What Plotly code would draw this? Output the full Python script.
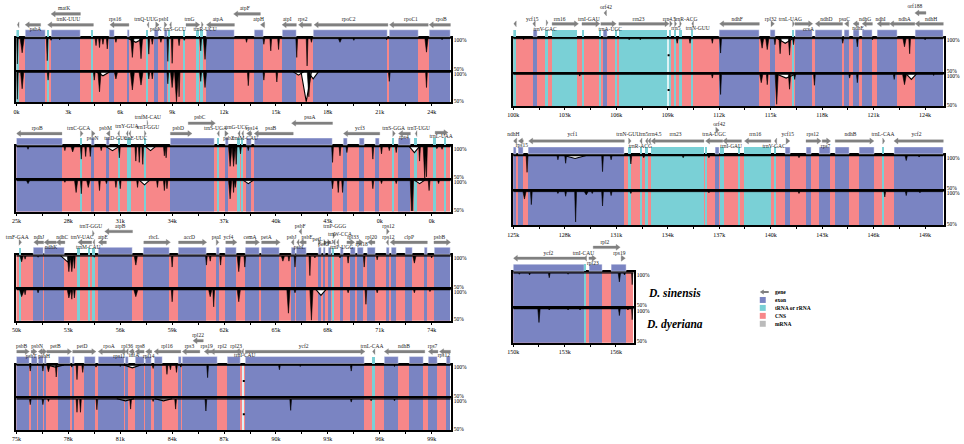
import plotly.graph_objects as go

BLUE = "#7A84C2"; PINK = "#F78789"; TEAL = "#7AD0D6"; GRAY = "#808080"; PALE = "#DDF2F4"
FONT = "Liberation Serif"

# ---------- panel 1 ----------
P1_TICKS = ["0k","3k","6k","9k","12k","15k","18k","21k","24k"]
P1_EXONS = [(0.52,1.67),(2.05,3.68),(5.37,5.67),(6.4,6.54),(7.95,8.18),(8.53,8.72),(10.98,12.59),(13.74,14.3),(15.35,16.18),(17.19,21.47),(21.56,23.25),(23.85,25.1)]
P1_RNA = [(0.05,0.15),(1.81,1.91),(4.36,4.46),(7.53,7.65),(8.82,8.92),(9.69,9.79),(10.45,10.55),(10.68,10.78)]
P1_GENES = [("trnH-GUG",0.05,0.15,-1,13,-0.1,18),("psbA",0.5,1.4,-1,13,1.1,8),("matK",2.0,3.7,-1,24,2.75,29),("trnK-UUU",1.8,4.45,-1,13,3.0,18),
 ("rps16",5.4,6.5,-1,13,5.7,18),("trnQ-UUG",7.55,7.65,-1,13,7.5,18),("psbK",8.05,8.25,1,13,8.05,8),("psbI",8.55,8.7,1,13,8.5,18),
 ("trnS-GCU",8.85,8.95,-1,13,9.15,8),("trnG",9.8,10.6,1,13,10.0,18),("trnR-UCU",10.7,10.8,1,13,10.9,8),("atpA",10.98,12.6,-1,13,11.65,18),
 ("atpF",12.55,14.1,-1,24,13.2,29),("atpH",14.1,14.35,-1,13,14.0,18),("atpI",15.35,16.18,-1,13,15.65,18),("rps2",16.3,17.05,-1,13,16.55,18),
 ("rpoC2",17.2,21.47,-1,13,19.2,18),("rpoC1",21.56,23.8,-1,13,22.8,18),("rpoB",23.85,25.1,-1,13,24.55,18)]
P1_DIPS_A = [(0.05,60),(0.33,77,.25),(1.78,65),(2.0,96),(2.5,97),(4.6,88),(4.8,85),(5.0,90),(5.25,83),(5.75,93),(6.7,70,.2),(7.2,68,.2),(6.9,93,.5),(7.65,75),(7.85,90),(8.35,93),(8.75,64),(9.0,61),(9.4,88),(9.7,96),(10.65,80),(10.9,67,.2),(13.3,93),(14.3,90),(14.7,80),(15.15,82),(16.2,70),(16.8,57),(17.05,93),(18.7,93,.2),(19.5,96),(21.4,97),(23.7,78,.2),(24.6,97)]
P1_DIPS_B = [(0.05,55),(0.33,72,.2),(1.83,86),(4.5,86),(4.8,67,.2),(5.0,93,.4),(5.75,88,.2),(6.7,70,.25),(7.2,78,.25),(7.65,88),(7.85,88),(8.75,80),(9.0,74,.2),(9.25,51,.25),(9.4,59),(10.65,84),(10.9,74,.2),(13.4,77),(14.3,86),(15.05,83),(16.3,94,.3),(16.75,51,.3),(16.9,59,.2),(17.15,88,.3),(21.55,84),(23.7,74)]

# ---------- panel 2 ----------
P2_TICKS = ["25k","28k","31k","34k","37k","40k","43k","0k","0k"]
P2_EXONS = [(25.0,27.63),(29.31,29.52),(30.18,30.39),(33.91,36.44),(37.07,37.26),(38.28,38.61),(38.74,43.27),(43.9,44.15),(44.82,45.09),(45.74,45.99),(47.08,47.77)]
P2_RNA = [(28.7,28.82),(30.88,31.0),(31.4,31.62),(32.4,32.5),(36.6,36.72),(37.8,37.92),(38.02,38.12),(46.75,46.87),(48.05,48.15),(49.15,49.25),(49.75,49.85)]
P2_GENES = [("rpoB",25.0,27.63,-1,12.5,26.2,18),("trnC-GCA",28.7,28.85,1,12.5,28.6,18),("psbN",29.35,29.55,1,12.5,29.4,7),("psbM",30.2,30.4,-1,12.5,30.15,18),
 ("trnD-GUC",30.85,30.95,-1,12.5,30.75,7),("trnY-GUA",31.35,31.45,-1,12.5,31.38,20),("trnE-UUC",31.5,31.6,-1,12.5,31.9,7),("trnfM-CAU",32.55,32.6,1,23,32.6,29),
 ("trnT-GGU",32.4,32.5,1,12.5,32.6,19),("psbD",33.9,35.15,1,12.5,34.35,18),("psbC",34.93,36.5,1,23,35.6,29),("trnS-UGA",36.6,36.72,-1,12.5,36.5,18),
 ("psbZ",37.05,37.25,1,12.5,37.27,7),("trnG-UCC",37.8,37.92,-1,12.5,37.75,19),("trnfM-CAU",38.02,38.12,-1,12.5,38.2,7),("rps14",38.3,38.6,-1,12.5,38.6,18),
 ("psaB",38.74,41.0,-1,12.5,39.7,18),("psaA",40.9,43.27,-1,23,41.96,29),("ycf3",43.9,46.0,-1,12.5,44.85,18),("trnS-GGA",46.75,46.9,1,12.5,46.8,18),
 ("trnT-UGU",48.05,48.15,-1,12.5,48.25,18),("rps4",47.08,47.77,-1,12.5,47.4,8),("trnL-UAA",49.2,49.95,1,13.5,49.55,9)]
P2_DIPS_A = [(25.67,95),(27.8,93),(28.25,91,.2),(28.75,80),(29,84),(29.27,84),(29.9,93),(30.55,93,.4),(30.95,82),(31.9,77),(32.1,75),(32.3,72),(32.75,93,.3),(33.55,85),(33.65,82),(37.35,69,.2),(37.55,69,.2),(37.7,72),(37.95,88),(38.4,93),(43.27,75),(43.7,85),(44.1,90),(45.6,80),(46.1,88),(46.55,93),(46.95,90),(48,90,.3),(48.3,77),(48.6,51,.2),(48.7,53),(49.3,96),(49.6,95)]
P2_DIPS_B = [(25.67,94,.2),(27.8,96),(28.45,80,.2),(28.75,78),(29.15,88,.2),(29.8,83),(30.2,94),(30.75,88),(31,86),(32,88),(32.4,92,.3),(33.15,88),(33.55,83),(33.7,86),(37.35,70,.2),(37.55,80),(37.65,88),(38.4,94,.3),(43.27,86),(43.6,80),(43.85,80),(45.6,86),(46.1,94),(46.95,94),(47.83,51,.15),(47.9,51),(48.3,94,.3),(48.85,83),(49.4,94)]

# ---------- panel 3 ----------
P3_TICKS = ["50k","53k","56k","59k","62k","65k","68k","71k","74k"]
P3_EXONS = [(51.0,51.57),(51.61,52.78),(54.73,56.71),(57.36,58.87),(59.37,60.96),(61.58,61.73),(62.1,62.71),(63.26,64.03),(64.17,65.18),(65.89,66.1),(66.18,66.75),(67.46,67.63),(67.77,67.88),(68.02,68.19),(68.71,68.9),(69.32,69.57),(69.69,70.03),(70.3,70.72),(71.37,71.56),(71.68,71.95),(72.48,72.87),(73.6,73.75),(74.13,75.1)]
P3_RNA = [(50.18,50.28),(53.57,53.67),(54.19,54.29),(54.44,54.54),(68.29,68.39)]
P3_GENES = [("trnF-GAA",50.15,50.3,1,13,50.05,18),("ndhJ",51.0,51.57,-1,13,51.3,18),("ndhK",51.6,52.3,-1,13,52.0,8),("ndhC",52.3,52.8,-1,13,52.65,18),
 ("trnV-UAC",53.55,54.35,-1,13,53.8,18),("trnM-CAU",54.42,54.52,-1,13,54.15,8),("trnT-GGU",54.4,54.5,1,22,54.3,29),("atpE",54.73,55.2,-1,13,55.0,18),
 ("atpB",55.1,56.71,-1,24,56.0,29),("rbcL",57.36,58.9,1,13,57.95,18),("accD",59.37,61.0,1,13,60.0,18),("psaI",61.55,61.7,1,13,61.55,18),
 ("ycf4",62.1,62.75,1,13,62.25,18),("cemA",63.26,64.05,1,13,63.5,18),("petA",64.17,65.25,1,13,64.45,18),("psbJ",65.88,66.03,-1,13,65.9,18),
 ("psbF",66.33,66.48,-1,24,66.4,29),("psbL",66.2,66.33,-1,13,66.35,8),("psbE",66.35,66.75,-1,13,66.8,18),("petL",67.45,67.6,1,13,67.4,16),
 ("petG",67.77,67.88,1,13,67.75,11),("psaJ",68.0,68.15,1,13,68.05,13),("trnW-CCA",68.3,68.42,-1,13,68.7,21),("trnP-UGG",68.5,68.62,-1,13,68.8,8),
 ("trnP-GGG",68.3,68.42,1,20,68.4,29),("rpl33",69.1,69.55,1,13,69.45,18),("rps18",69.65,70.05,1,13,69.95,11),("rpl20",70.3,70.72,-1,13,70.5,18),
 ("rps12",71.4,71.55,1,24,71.5,29),("rps12",71.37,71.5,-1,13,71.5,18),("clpP",71.6,73.75,-1,13,72.7,18),("psbB",74.13,75.1,1,13,74.45,18)]
P3_DIPS_A = [(50.3,90,.2),(50.5,94),(51.25,97),(53.03,75,.2),(53.2,75,.2),(52.95,90,.4),(53.35,80),(54.5,97),(56.9,85,.2),(59,82),(60.98,85),(61.2,91),(61.8,85),(62.85,75,.2),(63.2,82),(65.4,91,.2),(65.75,91),(66.1,82),(66.96,69),(67.25,96),(68.7,96),(69.17,88),(70.1,82),(70.85,93),(73,88,.2),(74,96)]
P3_DIPS_B = [(50.3,88,.25),(50.5,91),(51.25,94),(53.03,86,.2),(53.2,84),(53.35,86),(56.9,88,.25),(59,80),(61.2,88,.2),(61.4,72),(62.85,80,.2),(65.72,62,.2),(66.1,94),(67.05,51,.2),(67.6,90,.3),(69.17,94),(70.2,76),(70.85,94),(73,94),(73.9,96)]

# ---------- panel 4 ----------
P4_TICKS = ["75k","78k","81k","84k","87k","90k","93k","96k","99k"]
P4_EXONS = [(75,75.73),(75.86,76.21),(76.25,76.55),(76.59,76.71),(77.42,78.11),(78.24,78.35),(78.93,79.54),(79.72,81.27),(81.3,81.46),(81.86,82.38),(82.46,82.82),(82.95,83.41),(84.39,84.51),(84.58,86.6),(87.19,87.94),(88.23,95.09),(96.26,97.06),(97.7,98.5),(98.8,99.36),(99.88,100.1)]
P4_RNA = [(95.58,95.73)]
P4_STRIPES = [(88.08,88.2)]
P4_MARKS_X = [88.14]
P4_GENES = [("psbB",75,75.75,1,13,75.3,18),("psbT",75.85,76.2,1,13,75.85,8),("psbN",76.25,76.55,-1,13,76.2,18),("psbH",76.55,76.75,1,13,76.6,8),
 ("petB",76.75,78.2,1,13,77.25,18),("petD",78.25,79.6,1,13,78.8,18),("rpoA",79.72,81.27,-1,13,80.35,18),("rps11",81.0,81.3,-1,13,80.95,8),
 ("rpl36",81.3,81.46,-1,13,81.4,18),("infA",81.5,81.8,-1,13,81.8,9),("rps8",81.86,82.38,-1,13,82.15,18),("rpl14",82.46,82.82,-1,13,82.65,8),
 ("rpl16",82.95,84.5,-1,13,83.7,18),("rps3",84.58,85.6,-1,13,85.0,18),("rpl22",85.2,85.8,-1,24,85.5,29),("rps19",85.85,86.4,-1,13,86.0,18),
 ("rpl2",86.2,87.94,-1,13,86.9,18),("rpl23",87.65,88.0,-1,13,87.7,18),("trnI-CAU",88.02,88.12,-1,13,88.2,9),("ycf2",88.23,95.15,1,13,91.6,18),
 ("trnL-CAA",95.58,95.72,-1,13,95.55,18),("ndhB",96.26,98.6,-1,13,97.4,18),("rps7",98.8,99.36,-1,13,99.05,18),("rps12",99.45,100.1,-1,13,99.7,9)]
P4_DIPS_A = [(75.8,90),(76.53,90),(76.85,89,.2),(77.3,81),(77.25,96,.5),(78.2,96),(78.5,77),(78.83,88),(79.6,96),(81.0,97),(81.7,95,.5),(82.9,94),(83.7,85),(83.9,92),(84.25,88),(84.5,96),(86.05,80),(90.2,92),(91.4,97),(94.35,90),(96.85,97)]
P4_DIPS_B = [(75.8,90),(76.53,90),(76.85,95),(78.5,78),(78.7,78),(79.65,82),(81.6,83),(81.3,96,.5),(82.9,95),(83.5,96,.5),(84.2,83),(85.95,80),(90.85,81),(94.35,94),(95.5,96),(96.85,96)]

# ---------- panel 5 ----------
P5_TICKS = ["100k","103k","106k","109k","112k","115k","118k","121k","124k"]
P5_EXONS = [(101.14,101.37),(105.26,105.49),(112.02,114.34),(115.0,115.27),(116.41,117.45),(117.6,119.19),(119.29,119.61),(119.81,120.14),(120.33,120.93),(121.2,122.38),(123.42,125.08)]
P5_RNA = [(100.02,100.15),(101.92,102.02),(102.26,103.75),(104.05,104.15),(105.05,105.15),(106.0,106.08),(106.18,109.0),(109.1,109.18),(109.42,109.52),(109.73,109.83),(110.39,110.49),(116.28,116.38)]
P5_STRIPES = [(109.0,109.1)]
P5_MARKS_X = [109.05]
P5_GENES = [("rps12",100.02,100.17,-1,14,99.9,18),("ycf15",101.13,101.28,-1,14,101.1,18),("trnV-GAC",101.92,102.02,1,15,101.85,8),("rrn16",102.26,103.8,1,14,102.7,18),
 ("trnI-GAU",104.0,105.05,1,14,104.4,18),("trnA-UGC",105.1,106.0,1,14,105.65,8),("orf42",105.28,105.43,-1,25,105.4,30),("rrn23",106.15,109.08,1,14,107.3,18),
 ("rrn4.5",109.12,109.27,1,14,109.1,18),("rrn5",109.4,109.52,1,14,109.47,9),("trnR-ACG",109.7,109.8,1,14,110.05,18),("trnN-GUU",110.4,110.5,-1,14,110.75,9),
 ("ndhF",112.02,114.34,-1,14,113.05,18),("rpl32",115.02,115.22,1,14,115.0,18),("trnL-UAG",116.28,116.38,1,14,116.15,18),("ccsA",116.41,117.45,1,14,117.2,8),
 ("ndhD",117.6,119.19,-1,14,118.25,18),("psaC",119.3,119.55,-1,14,119.3,18),("ndhE",119.8,120.14,-1,14,120.1,9),("ndhG",120.33,120.93,-1,14,120.5,18),
 ("ndhI",121.2,121.93,-1,14,121.4,18),("ndhA",121.93,123.4,-1,14,122.8,18),("orf188",123.4,124.05,-1,25,123.4,31),("ndhH",123.42,125.08,-1,14,124.35,18)]
P5_DIPS_A = [(100.6,97),(106.75,97),(107.4,97),(109.55,92),(110.3,92),(111.6,92),(112.08,78,.12),(114.5,85,.2),(114.8,83,.2),(115.25,90),(115.55,77,.15),(116.1,75,.15),(115.85,92,.5),(116.33,90),(119.2,92),(120.05,87),(120.93,97),(122.8,87,.2),(123.1,77),(124,97)]
P5_DIPS_B = [(100.6,98),(103.87,96),(106.8,98),(111.6,93),(112.08,68,.12),(114.45,86,.2),(114.8,83),(115.35,53,.2),(115.9,93,.6),(116.1,76,.15),(116.4,91),(117.55,82),(119.6,93),(120.05,86),(122.2,91),(122.8,83,.25),(123.2,91,.3),(124.5,97)]

# ---------- panel 6 ----------
P6_TICKS = ["125k","128k","131k","134k","137k","140k","143k","146k","149k"]
P6_EXONS = [(125.0,125.19),(125.29,125.58),(125.89,131.47),(136.79,137.0),(140.85,141.13),(142.06,142.35),(142.86,143.5),(143.76,144.56),(145.19,146.02),(147.18,150.08)]
P6_RNA = [(131.75,131.85),(132.38,132.5),(132.68,132.88),(133.02,136.11),(136.2,136.3),(137.04,137.27),(138.13,138.23),(138.47,140.01),(140.22,140.32),(146.53,146.63)]
P6_GENES = [("ndhH",125.0,125.2,-1,14,125.0,20),("rps15",125.29,125.58,-1,14,125.5,9),("ycf1",125.89,131.47,-1,14,128.45,20),("trnN-GUU",131.72,131.87,1,14,131.7,20),
 ("trnR-ACG",132.37,132.5,-1,14,132.4,8),("rrn5",132.7,132.83,-1,14,132.6,20),("rrn4.5",132.85,133.0,-1,14,133.25,20),("rrn23",133.02,136.11,-1,14,134.45,20),
 ("trnA-UGC",136.2,137.2,-1,14,136.7,20),("orf42",136.8,137.0,1,25,137.0,31),("trnI-GAU",137.2,138.3,-1,14,137.7,8),("rrn16",138.47,140.01,-1,14,139.1,20),
 ("trnV-GAC",140.22,140.35,-1,14,140.2,8),("ycf15",140.9,141.12,1,14,141.0,20),("rps12",142.06,142.95,1,14,142.45,20),("rps7",143.0,143.5,1,14,143.2,8),
 ("ndhB",143.76,146.02,1,14,144.65,20),("trnL-CAA",146.53,146.65,1,14,146.55,20),("ycf2",147.18,150.08,-1,14,148.5,20)]
P6_DIPS_A = [(125.8,75,.12),(127.6,93),(128.05,88),(128.6,95,.7),(130.2,76),(130.7,93),(131.85,87),(132.6,96),(134.9,96),(136.4,96),(141.65,96),(147.9,92,.15),(148.65,97)]
P6_DIPS_B = [(125.65,88,.2),(126.05,80),(127.6,96),(128.05,92),(128.63,55,.12),(129.25,94,.25),(129.6,96),(130.2,78),(130.7,93),(131.85,96),(136.4,97),(141.65,96),(146.65,91),(147.9,93),(148.7,97)]

# ---------- panel 7 ----------
P7_TICKS = ["150k","153k","156k"]
P7_EXONS = [(150.0,154.13),(154.42,155.19),(155.75,156.58)]
P7_RNA = [(154.13,154.28)]
P7_GENES = [("ycf2",150.0,154.25,-1,14,152.05,19),("trnI-CAU",154.15,154.28,-1,14,154.1,19),("rpl23",154.42,154.85,1,14,154.65,9),("rpl2",154.67,156.25,1,25,155.35,30),("rps19",156.3,156.55,1,14,156.2,19)]
P7_DIPS_A = [(150.35,97),(150.95,96),(152.1,92),(153.2,97),(156.2,86,.15),(156.5,96),(156.95,82,.08)]
P7_DIPS_B = [(150.35,98),(151.5,79,.15),(152.1,97),(153.2,97),(153.9,97),(156.2,89),(156.7,97),(156.95,83,.08)]

LEGEND_LABELS = ["gene","exon","tRNA or rRNA","CNS","mRNA"]
SPECIES = ["D. sinensis","D. dyeriana"]

W, H = 964, 444
DX = -4.5
PANELS = [
 (15,452,37,71,102,0,25.1,P1_TICKS,P1_EXONS,P1_RNA,P1_GENES,P1_DIPS_A,P1_DIPS_B,[],[]),
 (15,452,146,180,212,25,50.1,P2_TICKS,P2_EXONS,P2_RNA,P2_GENES,P2_DIPS_A,P2_DIPS_B,[],[]),
 (15,452,256,290,322,50,75.1,P3_TICKS,P3_EXONS,P3_RNA,P3_GENES,P3_DIPS_A,P3_DIPS_B,[],[]),
 (15,452,366,400,432,75,100.1,P4_TICKS,P4_EXONS,P4_RNA,P4_GENES,P4_DIPS_A,P4_DIPS_B,P4_STRIPES,P4_MARKS_X),
 (515,948,37,73,106,100,125.08,P5_TICKS,P5_EXONS,P5_RNA,P5_GENES,P5_DIPS_A,P5_DIPS_B,P5_STRIPES,P5_MARKS_X),
 (515,948,155,191,226,125,150.08,P6_TICKS,P6_EXONS,P6_RNA,P6_GENES,P6_DIPS_A,P6_DIPS_B,[],[]),
 (515,636,273,309,344,150,157.03,P7_TICKS,P7_EXONS,P7_RNA,P7_GENES,P7_DIPS_A,P7_DIPS_B,[],[]),
]
GENE_H = 36
BASE = 98.6

fig = go.Figure()
layout = {}
n = 0

def bars(segs, color, xa, ya, lo, hi, line=None):
    if not segs:
        return
    fig.add_trace(go.Bar(x=[(a+b)/2 for a, b in segs], y=[hi-lo]*len(segs), base=lo,
                         width=[b-a for a, b in segs], marker=dict(color=color, line=dict(width=line or 0, color="white")),
                         xaxis=xa, yaxis=ya, showlegend=False, hoverinfo="skip"))

def black_curve(dips, x0, x1):
    xs, ys = [x0], [BASE]
    for d in sorted(dips):
        if len(d) > 2 and d[2] >= 0.3:
            continue
        w = d[2]*0.45 if len(d) > 2 else 0.05
        xs += [d[0]-w, d[0], d[0]+w]
        ys += [BASE, d[1], BASE]
    xs += [x1, x1, x0, x0]
    ys += [BASE, 100, 100, BASE]
    return xs, ys

def white_patches(dips):
    xs, ys = [], []
    for d in sorted(dips):
        if len(d) > 2 and d[2] >= 0.3:
            xs += [d[0]-d[2], d[0], d[0]+d[2], None]
            ys += [99.5, d[1], 99.5, None]
    return xs, ys

for (L, R, T, M, B, x0, x1, labels, exons, rna, genes, da, db, stripes, marks) in PANELS:
    xdom = [(L+DX)/W, (R+DX)/W]
    first = round(x0)
    tickv, tickt = [], []
    i = 0
    while first + i*1.5 <= x1:
        tickv.append(first + i*1.5)
        tickt.append(labels[i//2] if i % 2 == 0 and i//2 < len(labels) else "")
        i += 1
    rng = [x0, x1]
    for k, (top, bot, dips) in enumerate([(T, M-1, da), (M, B, db)]):
        n += 1
        s = "" if n == 1 else str(n)
        xa, ya = "x"+s, "y"+s
        xcfg = dict(domain=xdom, range=rng, anchor=ya, showline=True, linecolor="black", linewidth=2, mirror=(k == 1),
                    side="top" if k == 0 else "bottom", showgrid=False, zeroline=False, fixedrange=True)
        if k == 1:
            xcfg.update(tickmode="array", tickvals=tickv, ticktext=tickt, ticks="outside", ticklen=2, tickwidth=1,
                        tickcolor="black", tickfont=dict(family=FONT, size=6, color="black"), tickangle=0)
        else:
            xcfg.update(showticklabels=False, ticks="")
        layout["xaxis"+s] = xcfg
        layout["yaxis"+s] = dict(domain=[1-bot/H, 1-top/H], range=[50, 100], anchor=xa, side="right", showline=True, mirror=True,
                                 linecolor="black", linewidth=2, showgrid=False, zeroline=False, fixedrange=True,
                                 tickmode="array", tickvals=[52, 96], ticktext=["50%", "100%"], ticks="",
                                 tickfont=dict(family=FONT, size=5.5, color="black"))
        bars([(x0, x1)], PINK, xa, ya, 50, 100)
        bars(exons, BLUE, xa, ya, 50, 100)
        bars(rna, TEAL, xa, ya, 50, 100)
        bars(stripes, PALE, xa, ya, 50, 100)
        wx, wy = white_patches(dips)
        if wx:
            fig.add_trace(go.Scatter(x=wx, y=wy, mode="lines", fill="toself", fillcolor="white",
                                     line=dict(color="black", width=1.1), xaxis=xa, yaxis=ya, showlegend=False, hoverinfo="skip"))
        cx, cy = black_curve(dips, x0, x1)
        fig.add_trace(go.Scatter(x=cx, y=cy, mode="lines", fill="toself", fillcolor="black",
                                 line=dict(color="black", width=0.6), xaxis=xa, yaxis=ya, showlegend=False, hoverinfo="skip"))
        if marks:
            fig.add_trace(go.Scatter(x=marks, y=[75]*len(marks), mode="markers", marker=dict(color="black", size=2, symbol="square"),
                                     xaxis=xa, yaxis=ya, showlegend=False, hoverinfo="skip"))
    n += 1
    s = str(n)
    xa, ya = "x"+s, "y"+s
    layout["xaxis"+s] = dict(domain=xdom, range=rng, anchor=ya, visible=False, fixedrange=True)
    layout["yaxis"+s] = dict(domain=[1-T/H, 1-(T-GENE_H)/H], range=[0, GENE_H], anchor=xa, visible=False, fixedrange=True)
    bars(exons, BLUE, xa, ya, 1.2, 7.5, line=0.4)
    bars(rna, TEAL, xa, ya, 1.2, 7.5)
    ax, ay = [], []
    head = 0.24
    for g in genes:
        name, a, b, st, y, lx, ly = g
        hl = min(head, b-a)
        if st < 0:
            ax += [b, a+hl, a+hl, a, a+hl, a+hl, b, b, None]
        else:
            ax += [a, b-hl, b-hl, b, b-hl, b-hl, a, a, None]
        body = 1.3 if b-a > head else 0
        ay += [y+body, y+body, y+3, y, y-3, y-body, y-body, y+body, None]
    fig.add_trace(go.Scatter(x=ax, y=ay, mode="lines", fill="toself", fillcolor=GRAY, line=dict(color=GRAY, width=0.3),
                             xaxis=xa, yaxis=ya, showlegend=False, hoverinfo="skip"))
    fig.add_trace(go.Scatter(x=[g[5] for g in genes], y=[g[6] for g in genes], text=[g[0] for g in genes], mode="text",
                             textposition="middle center", textfont=dict(family=FONT, size=5.5, color="#222222"),
                             xaxis=xa, yaxis=ya, showlegend=False, hoverinfo="skip", cliponaxis=False))

def X(p): return (p+DX)/W
def Y(p): return 1-p/H
ann = []
for name, y in zip(SPECIES, [294, 326]):
    ann.append(dict(text="<b><i>%s</i></b>" % name, x=X(677), y=Y(y), xref="paper", yref="paper", xanchor="center", yanchor="middle", showarrow=False,
                    font=dict(family=FONT, size=11.5, color="black")))
shapes = []
shapes.append(dict(type="path", xref="paper", yref="paper", line=dict(width=0), fillcolor=GRAY,
    path="M %f,%f L %f,%f L %f,%f L %f,%f L %f,%f L %f,%f L %f,%f Z" % (
        X(763),Y(293),X(767),Y(290.5),X(767),Y(292),X(772),Y(292),X(772),Y(294),X(767),Y(294),X(767),Y(295.5))))
for c, y in zip([BLUE, TEAL, PINK, "#BBBBBB"], [301, 309, 317, 325]):
    shapes.append(dict(type="rect", xref="paper", yref="paper", x0=X(763), x1=X(769), y0=Y(y-3), y1=Y(y+3), line=dict(width=0), fillcolor=c))
for lab, y in zip(LEGEND_LABELS, [293, 301, 309, 317, 325]):
    ann.append(dict(text="<b>%s</b>" % lab, x=X(776), y=Y(y), xref="paper", yref="paper", xanchor="left", yanchor="middle", showarrow=False,
                    font=dict(family=FONT, size=5.5, color="black")))

fig.update_layout(width=W, height=H, margin=dict(l=0, r=0, t=0, b=0), paper_bgcolor="white", plot_bgcolor="white",
                  barmode="overlay", bargap=0, showlegend=False, annotations=ann, shapes=shapes, **layout)
fig.write_html("out.html", config={"displayModeBar": False},
               post_script="document.body.style.margin='0';document.body.style.padding='0';document.documentElement.style.overflow='hidden';")
